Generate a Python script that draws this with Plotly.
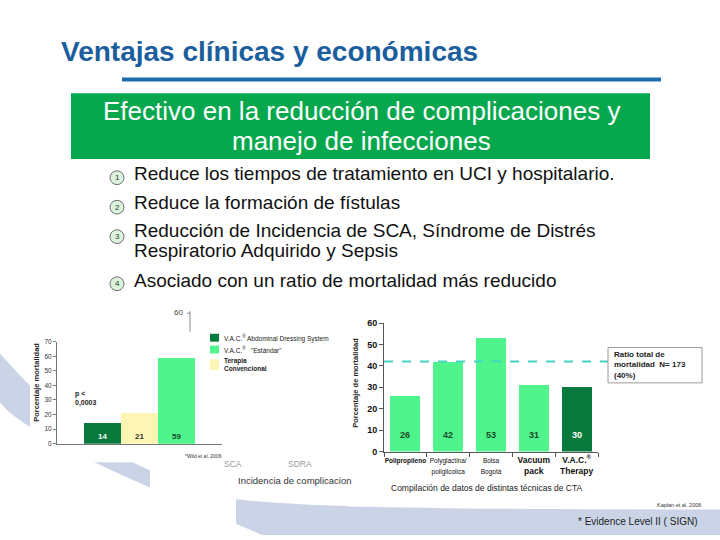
import plotly.graph_objects as go

W, H = 720, 540


def px(x):
    return x / W


def py(y):
    return 1 - y / H


# ---------------- data ----------------
title_text = "Ventajas clínicas y económicas"
banner_lines = ["Efectivo en la reducción de complicaciones y", "manejo de infecciones"]
bullet_numbers = ["1", "2", "3", "4"]
bullet_lines = [
    ["Reduce los tiempos de tratamiento en UCI y hospitalario."],
    ["Reduce la formación de fístulas"],
    ["Reducción de Incidencia de SCA, Síndrome de Distrés", "Respiratorio Adquirido y Sepsis"],
    ["Asociado con un ratio de mortalidad más reducido"],
]

left_categories = ["V.A.C.® Abdominal Dressing System", "Terapia Convencional", "V.A.C.® Estándar"]
left_values = [14, 21, 59]
left_yticks = [0, 10, 20, 30, 40, 50, 60, 70]
left_legend_labels = ["V.A.C.<sup>®</sup> Abdominal Dressing System",
                      "V.A.C.<sup>®</sup>   \"Estándar\"",
                      "<b>Terapia<br>Convencional</b>"]
left_pvalue = "<b>p <<br>0,0003</b>"
left_ylabel = "<b>Porcentaje mortalidad</b>"
left_source = "*Wild et al. 2006"
left_hidden_categories = ["SCA", "SDRA"]
left_xlabel = "Incidencia de complicacion"

right_categories = ["Polipropileno", "Polyglactina/poliglicolica", "Bolsa Bogotá", "Vacuum pack", "V.A.C.® Therapy"]
right_tick_labels = [
    "<b><span style='font-size:6.5px'>Polipropileno</span></b>",
    "<span style='font-size:6.5px'>Polyglactina/<br>poliglicolica</span>",
    "<span style='font-size:6.5px'>Bolsa<br>Bogotá</span>",
    "<b>Vacuum<br>pack</b>",
    "<b>V.A.C.<sup>®</sup><br>Therapy</b>",
]
right_values = [26, 42, 53, 31, 30]
right_yticks = [0, 10, 20, 30, 40, 50, 60]
overall_rate_line = 42
overall_rate_text = "<b>Ratio total de<br>mortalidad  N= 173<br>(40%)</b>"
right_ylabel = "<b>Porcentaje de mortalidad</b>"
right_xlabel = "Compilación de datos de distintas técnicas de CTA"
right_source = "Kaplan et al, 2006"
footnote = "* Evidence Level II ( SIGN)"

# ---------------- colours ----------------
DARK_GREEN = "#087a3d"
LIGHT_GREEN = "#4ff58c"
PALE_YELLOW = "#fdf5b4"
TITLE_BLUE = "#1b5e9e"
BANNER_GREEN = "#07a84d"
BAND = "#cbd4e7"
FONT = "Liberation Sans, Arial, sans-serif"

left_colors = [DARK_GREEN, PALE_YELLOW, LIGHT_GREEN]
left_label_colors = ["white", "#333333", "#1d4a2a"]
legend_colors = [DARK_GREEN, LIGHT_GREEN, PALE_YELLOW]
right_colors = [LIGHT_GREEN, LIGHT_GREEN, LIGHT_GREEN, LIGHT_GREEN, DARK_GREEN]
right_label_colors = ["#1d4a2a", "#1d4a2a", "#1d4a2a", "#1d4a2a", "white"]

fig = go.Figure()

fig.add_trace(go.Bar(
    x=left_categories, y=left_values, marker=dict(color=left_colors, line=dict(width=0)),
    xaxis="x", yaxis="y", hoverinfo="skip", showlegend=False, width=1.0,
))
fig.add_trace(go.Bar(
    x=right_categories, y=right_values, marker=dict(color=right_colors, line=dict(width=0)),
    xaxis="x2", yaxis="y2", hoverinfo="skip", showlegend=False, width=0.7,
))

shapes = []
# decorative swoosh band
shapes.append(dict(
    type="path", xref="paper", yref="paper", layer="below", line=dict(width=0), fillcolor=BAND,
    path=("M {a},{b} C {c},{d} {e},{f} {g},{h} C {i},{j} {k},{l} {m},{n} L {o},{p} L {q},{r} "
          "C {s},{t} {u},{v} {w},{x} C {y1},{y2} {y3},{y4} {y5},{y6} Z").format(
        a=px(0), b=py(355), c=px(40), d=py(400), e=px(100), f=py(470), g=px(233), h=py(503),
        i=px(300), j=py(512), k=px(450), l=py(514), m=px(720), n=py(514),
        o=px(720), p=py(540), q=px(262), r=py(540),
        s=px(200), t=py(512), u=px(90), v=py(470), w=px(30), x=py(430),
        y1=px(15), y2=py(420), y3=px(5), y4=py(412), y5=px(0), y6=py(405)),
))
# white picture backgrounds covering the band
for (x0, y0, x1, y1) in [(30, 300, 232, 466), (150, 455, 236, 540), (348, 300, 720, 511)]:
    shapes.append(dict(type="rect", xref="paper", yref="paper", layer="below",
                       x0=px(x0), x1=px(x1), y0=py(y1), y1=py(y0),
                       fillcolor="white", line=dict(width=0)))
# blue rule under title
shapes.append(dict(type="line", xref="paper", yref="paper", x0=px(122), x1=px(661), y0=py(76), y1=py(76),
                   line=dict(color="#1f6db0", width=4)))
# green banner
shapes.append(dict(type="rect", xref="paper", yref="paper", x0=px(71), x1=px(650), y0=py(157), y1=py(90),
                   fillcolor=BANNER_GREEN, line=dict(width=0)))

annotations = []
annotations.append(dict(text=title_text, x=px(59), y=py(47), xref="paper", yref="paper",
                        xanchor="left", yanchor="middle", showarrow=False,
                        font=dict(family=FONT, size=28, color=TITLE_BLUE, weight=700)))
for line, yc in zip(banner_lines, [108, 139]):
    annotations.append(dict(text=line, x=px(361), y=py(yc), xref="paper", yref="paper",
                            xanchor="center", yanchor="middle", showarrow=False,
                            font=dict(family=FONT, size=26, color="white")))

bullet_circle_y = [176, 206, 236, 284]
bullet_text_y = [[172], [201], [230, 250], [281]]
for num, cy, lines, ys in zip(bullet_numbers, bullet_circle_y, bullet_lines, bullet_text_y):
    r = 7
    shapes.append(dict(type="circle", xref="paper", yref="paper",
                       x0=px(117 - r), x1=px(117 + r), y0=py(cy + r), y1=py(cy - r),
                       fillcolor="#dcf3dc", line=dict(color="#6e6e6e", width=1)))
    annotations.append(dict(text=num, x=px(117), y=py(cy), xref="paper", yref="paper",
                            xanchor="center", yanchor="middle", showarrow=False,
                            font=dict(family=FONT, size=8, color="#333333")))
    for t, ty in zip(lines, ys):
        annotations.append(dict(text=t, x=px(132), y=py(ty), xref="paper", yref="paper",
                                xanchor="left", yanchor="middle", showarrow=False,
                                font=dict(family=FONT, size=19, color="#111111")))

# ---- left chart extras ----
for cat, v, c in zip(left_categories, left_values, left_label_colors):
    annotations.append(dict(text="<b>%d</b>" % v, x=cat, y=0, xref="x", yref="y", yshift=7,
                            xanchor="center", yanchor="middle", showarrow=False,
                            font=dict(family=FONT, size=8, color=c)))
annotations.append(dict(text=left_ylabel, x=px(37), y=py(385), xref="paper", yref="paper",
                        textangle=-90, showarrow=False, xanchor="center", yanchor="middle",
                        font=dict(family=FONT, size=7.5, color="#222222")))
annotations.append(dict(text=left_pvalue, x=px(73), y=py(401), xref="paper", yref="paper",
                        align="left", xanchor="left", yanchor="middle", showarrow=False,
                        font=dict(family=FONT, size=7, color="#222222")))
# fragment of a hidden axis ("60")
shapes.append(dict(type="line", xref="paper", yref="paper", x0=px(190), x1=px(190), y0=py(333), y1=py(312),
                   line=dict(color="#888888", width=1)))
shapes.append(dict(type="line", xref="paper", yref="paper", x0=px(187), x1=px(190), y0=py(314), y1=py(314),
                   line=dict(color="#888888", width=1)))
annotations.append(dict(text="60", x=px(185), y=py(313), xref="paper", yref="paper",
                        xanchor="right", yanchor="middle", showarrow=False,
                        font=dict(family=FONT, size=8, color="#444444")))
# legend
legend_y = [(335, 343), (347, 355), (361, 372)]
legend_text_y = [339, 351, 366]
for col, (y0, y1), lab, ty in zip(legend_colors, legend_y, left_legend_labels, legend_text_y):
    shapes.append(dict(type="rect", xref="paper", yref="paper", x0=px(210), x1=px(219),
                       y0=py(y1), y1=py(y0), fillcolor=col, line=dict(width=0)))
    annotations.append(dict(text=lab, x=px(222), y=py(ty), xref="paper", yref="paper",
                            align="left", xanchor="left", yanchor="middle", showarrow=False,
                            font=dict(family=FONT, size=6.5, color="#222222")))
annotations.append(dict(text=left_source, x=px(183), y=py(459), xref="paper", yref="paper",
                        xanchor="left", yanchor="middle", showarrow=False,
                        font=dict(family=FONT, size=5, color="#333333")))
for t, xx in zip(left_hidden_categories, [233, 300]):
    annotations.append(dict(text=t, x=px(xx), y=py(468), xref="paper", yref="paper",
                            xanchor="center", yanchor="middle", showarrow=False,
                            font=dict(family=FONT, size=8.5, color="#9a9a9a")))
annotations.append(dict(text=left_xlabel, x=px(236), y=py(484), xref="paper", yref="paper",
                        xanchor="left", yanchor="middle", showarrow=False,
                        font=dict(family=FONT, size=9.5, color="#333333")))

# ---- right chart extras ----
for cat, v, c in zip(right_categories, right_values, right_label_colors):
    annotations.append(dict(text="<b>%d</b>" % v, x=cat, y=0, xref="x2", yref="y2", yshift=17,
                            xanchor="center", yanchor="middle", showarrow=False,
                            font=dict(family=FONT, size=9, color=c)))
shapes.append(dict(type="line", xref="paper", yref="y2", x0=px(384), x1=px(608),
                   y0=overall_rate_line, y1=overall_rate_line,
                   line=dict(color="#45d4c4", width=2, dash="dash")))
shapes.append(dict(type="rect", xref="paper", yref="paper", x0=px(608), x1=px(702), y0=py(385), y1=py(349),
                   fillcolor="white", line=dict(color="#9a9a9a", width=1)))
annotations.append(dict(text=overall_rate_text, x=px(612), y=py(367), xref="paper", yref="paper",
                        align="left", xanchor="left", yanchor="middle", showarrow=False,
                        font=dict(family=FONT, size=8, color="#222222")))
annotations.append(dict(text=right_ylabel, x=px(356), y=py(385), xref="paper", yref="paper",
                        textangle=-90, showarrow=False, xanchor="center", yanchor="middle",
                        font=dict(family=FONT, size=7.5, color="#222222")))
annotations.append(dict(text=right_xlabel, x=px(487), y=py(492), xref="paper", yref="paper",
                        xanchor="center", yanchor="middle", showarrow=False,
                        font=dict(family=FONT, size=8.5, color="#222222")))
annotations.append(dict(text=right_source, x=px(703), y=py(509), xref="paper", yref="paper",
                        xanchor="right", yanchor="middle", showarrow=False,
                        font=dict(family=FONT, size=5.5, color="#333333")))
annotations.append(dict(text=footnote, x=px(700), y=py(526), xref="paper", yref="paper",
                        xanchor="right", yanchor="middle", showarrow=False,
                        font=dict(family=FONT, size=10, color="#222222")))

fig.update_layout(
    width=W, height=H, autosize=False,
    margin=dict(l=0, r=0, t=0, b=0),
    paper_bgcolor="white", plot_bgcolor="rgba(0,0,0,0)",
    bargap=0, showlegend=False,
    font=dict(family=FONT),
    shapes=shapes, annotations=annotations,
    xaxis=dict(domain=[px(57), px(222)], anchor="y", type="category",
               range=[-1.23, 3.23], showticklabels=False, ticks="",
               showline=True, linecolor="#777777", linewidth=1, showgrid=False, zeroline=False,
               fixedrange=True),
    yaxis=dict(domain=[py(447), py(343)], anchor="x", range=[0, 70], tickvals=left_yticks,
               ticks="outside", ticklen=3, tickcolor="#777777", showline=True, linecolor="#777777",
               linewidth=1, showgrid=False, zeroline=False,
               tickfont=dict(family=FONT, size=6.5, color="#333333"), fixedrange=True),
    xaxis2=dict(domain=[px(384), px(598)], anchor="y2", type="category",
                range=[-0.5, 4.5], tickvals=right_categories, ticktext=right_tick_labels,
                tickangle=0, ticks="outside", tickson="boundaries", ticklen=4, tickcolor="#555555",
                showline=True, linecolor="#555555", linewidth=1, showgrid=False, zeroline=False,
                tickfont=dict(family=FONT, size=8.5, color="#111111"), fixedrange=True),
    yaxis2=dict(domain=[py(455), py(324)], anchor="x2", range=[0, 60], tickvals=right_yticks,
                ticks="outside", ticklen=4, tickcolor="#555555", showline=True, linecolor="#555555",
                linewidth=1, showgrid=False, zeroline=False,
                tickfont=dict(family=FONT, size=9, color="#111111", weight=700), fixedrange=True),
)

fig.write_html("out.html", config={"displayModeBar": False, "staticPlot": True},
               post_script="document.body.style.margin='0';document.body.style.padding='0';")
